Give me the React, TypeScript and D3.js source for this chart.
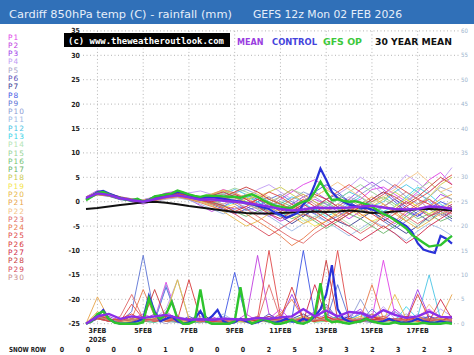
import React from "react";
import * as d3 from "d3";

// ---------- DATA ----------
const memberNames = Array.from({ length: 30 }, (_, i) => `P${i + 1}`);
const memberColors = [
  "#e040e8", "#c03ce0", "#9c3ce8", "#c09cf4", "#a8a4c8", "#5a50b8", "#383890", "#3c54e4", "#5c74d4", "#8c9cd4",
  "#9cb8e4", "#48c4e4", "#38d4e8", "#b4e4b4", "#98d498", "#74c474", "#68b468", "#c8c848", "#f4e448", "#e8b848",
  "#e8a448", "#f4c484", "#e06868", "#e87848", "#e04848", "#d83838", "#d02848", "#c83838", "#d84858", "#c88c8c",
];

// 12-hourly member 850hPa temperatures (hour 0..384)
const memberTemp: number[][] = [
  [0.6,2.0,1.2,0.5,0.2,0.4,1.0,1.8,2.2,1.5,0.8,1.5,2.5,1.8,0.5,-0.5,-1.2,0.5,2.0,3.5,4.5,3.0,1.0,-0.5,0.5,2.5,3.0,1.5,0.0,2.0,4.5,6.0,3.5],
  [1.0,2.3,1.6,0.8,0.0,-0.5,0.2,0.8,1.5,0.5,-0.8,-2.0,-1.0,0.5,1.5,0.0,-2.5,-4.0,-3.0,-1.0,0.5,-0.5,-2.0,-3.5,-2.0,-1.0,-3.0,-4.5,-2.5,-1.0,0.5,-1.5,-3.0],
  [0.9,1.8,1.7,1.0,0.6,0.3,0.8,1.5,2.0,1.2,0.6,0.0,-0.8,-1.5,-1.0,-2.0,-3.0,-2.0,-0.5,1.0,2.0,0.5,-1.0,0.5,2.5,4.0,2.5,0.5,-1.5,-3.0,-1.0,1.5,0.5],
  [0.7,1.5,1.3,0.9,0.5,0.2,0.3,0.9,1.0,1.8,2.2,1.5,0.5,-0.5,0.8,2.5,3.5,2.0,0.5,-1.0,-2.5,-1.0,1.5,3.0,5.0,3.5,1.5,3.0,5.5,4.0,2.0,4.0,7.0],
  [0.8,1.9,1.5,0.6,0.1,-0.3,0.0,0.5,0.8,0.4,0.0,0.8,1.5,0.5,-1.5,-2.5,-1.0,0.5,-0.5,-2.0,-3.5,-2.0,-0.5,1.0,0.0,-2.0,-3.5,-2.0,0.0,1.5,0.5,-1.0,0.0],
  [0.5,1.4,1.1,0.4,0.2,0.1,0.6,1.2,1.6,1.0,0.2,-0.6,-1.5,-2.5,-1.5,0.0,1.0,-0.5,-2.0,-3.0,-1.5,0.5,1.5,0.0,-1.5,-2.5,-1.0,0.5,-1.0,-2.5,-4.0,-2.0,-1.0],
  [0.9,1.6,1.2,0.5,0.4,0.2,0.7,1.1,1.4,0.8,0.5,1.2,2.0,1.0,0.0,-1.0,-2.0,-3.0,-4.5,-3.0,-1.5,-2.5,-4.0,-5.0,-3.5,-2.0,-3.5,-5.0,-6.5,-5.0,-3.0,-2.0,-3.5],
  [0.7,1.7,1.5,0.8,0.4,0.0,0.4,1.0,1.5,1.2,0.9,0.3,-0.5,0.5,1.5,0.5,-1.0,-2.5,-1.5,0.0,2.0,3.5,2.0,0.0,-1.5,0.5,2.0,0.0,-2.0,-3.0,-1.5,0.0,-1.0],
  [0.8,1.8,1.3,0.6,0.3,0.1,0.6,1.3,1.2,0.6,0.1,0.6,0.8,-0.5,-1.8,-1.0,0.5,1.5,0.0,-1.5,-2.5,-4.0,-3.0,-1.5,-0.5,-2.0,-4.0,-5.5,-4.0,-2.0,-1.0,-2.5,-4.0],
  [0.6,1.5,1.4,0.9,0.6,0.4,0.9,1.4,1.8,1.4,0.8,0.2,0.8,1.8,2.5,1.5,0.0,-1.0,0.5,2.0,1.0,-0.5,-1.5,0.0,1.5,3.0,4.5,3.0,1.0,-0.5,1.0,3.0,2.0],
  [1.0,2.1,1.6,0.7,0.2,-0.2,0.3,0.7,1.0,0.3,-0.5,-1.5,-2.5,-1.5,-0.5,-1.5,-3.0,-4.5,-6.0,-4.5,-3.0,-4.0,-5.5,-7.0,-5.5,-4.0,-5.0,-6.5,-8.0,-6.0,-4.5,-5.5,-7.0],
  [0.7,1.6,1.5,0.8,0.3,0.2,0.7,1.2,1.5,1.1,0.6,0.9,1.5,2.5,1.5,0.0,-1.5,-0.5,1.0,0.0,-2.0,-1.0,0.5,2.0,1.0,-1.0,0.0,2.0,3.5,2.0,0.0,-2.0,-1.0],
  [0.8,1.7,1.2,0.5,0.1,-0.1,0.4,1.0,1.3,0.7,0.3,-0.3,-1.0,0.0,1.0,0.0,-1.5,-3.0,-2.0,-0.5,-1.5,-3.0,-2.0,-0.5,1.0,-0.5,-2.0,-1.0,1.0,3.0,1.5,-0.5,-2.0],
  [0.6,1.5,1.3,0.7,0.4,0.3,0.8,1.3,1.0,0.5,0.0,0.5,1.2,0.5,-0.5,-1.5,-2.0,-1.0,-2.5,-4.0,-3.0,-1.5,-3.0,-4.5,-6.0,-4.5,-3.0,-1.5,-3.5,-5.0,-3.5,-2.0,-3.0],
  [0.9,1.9,1.6,0.9,0.5,0.2,0.5,0.9,1.2,0.8,0.5,1.0,1.8,2.8,2.0,1.0,0.0,1.0,2.5,1.5,0.0,-1.0,0.5,2.0,3.5,2.0,0.5,-1.0,0.5,2.5,4.0,2.0,0.5],
  [0.7,1.6,1.4,0.7,0.2,0.0,0.4,1.0,1.4,1.0,0.3,-0.3,0.3,1.0,0.0,-1.2,-0.5,-2.0,-3.5,-2.5,-1.0,0.0,-1.5,-2.5,-1.5,0.0,1.0,-0.5,-2.0,-3.5,-2.5,-1.0,-2.0],
  [0.8,1.8,1.4,0.6,0.3,0.1,0.6,1.1,1.3,0.9,0.4,0.0,-0.8,-2.0,-3.0,-2.0,-1.0,0.0,-1.0,-2.5,-4.0,-5.5,-4.0,-2.5,-3.5,-5.0,-6.5,-5.0,-3.0,-1.5,-2.5,-4.0,-3.0],
  [0.6,1.4,1.2,0.6,0.3,0.2,0.7,1.3,1.7,1.3,0.9,1.5,2.2,1.5,0.5,1.0,2.0,3.0,1.5,0.0,1.0,2.5,1.0,-0.5,-2.0,-1.0,0.5,2.0,0.5,-1.0,1.0,3.5,5.0],
  [0.9,1.7,1.5,0.8,0.4,0.1,0.5,1.0,1.2,0.7,0.2,-0.5,-1.2,-0.5,0.5,1.5,0.5,-0.5,-2.0,-3.5,-5.0,-4.0,-2.0,-1.0,-2.5,-4.0,-3.0,-1.0,0.5,-1.0,-2.5,-1.5,0.0],
  [0.7,1.5,1.3,0.7,0.3,0.0,0.3,0.8,1.1,0.6,0.0,-0.8,-2.0,-3.5,-5.0,-4.0,-2.5,-1.5,-3.0,-4.5,-3.5,-2.0,-0.5,-1.5,-3.0,-2.0,-0.5,-2.0,-4.0,-5.5,-4.0,-2.5,-1.5],
  [1.0,2.0,1.7,1.0,0.5,0.3,0.8,1.4,1.9,1.5,1.0,1.6,2.4,1.8,0.8,-0.5,-2.0,-1.0,0.5,1.5,0.0,-1.5,-3.0,-2.0,-0.5,1.0,-0.5,-2.5,-4.0,-2.5,-1.0,0.5,1.5],
  [0.8,1.6,1.4,0.8,0.5,0.3,0.7,1.1,1.5,1.1,0.6,0.2,-0.5,0.5,1.5,2.0,1.0,-0.5,-1.5,-0.5,1.0,2.5,4.0,2.5,1.0,-0.5,1.0,2.5,4.5,6.0,4.0,2.0,3.0],
  [0.7,1.8,1.6,0.9,0.4,0.1,0.4,0.9,1.3,0.9,0.4,0.8,1.0,0.0,-1.5,-3.0,-4.5,-6.0,-7.5,-8.5,-6.5,-5.0,-3.5,-5.0,-6.5,-5.0,-3.0,-1.5,-3.0,-4.5,-3.0,-1.5,-2.5],
  [0.6,1.5,1.2,0.6,0.2,-0.1,0.2,0.7,1.0,0.5,-0.2,-1.0,-1.8,-1.0,-2.5,-4.0,-5.5,-7.0,-9.0,-7.5,-5.5,-4.0,-2.5,-1.0,-2.5,-4.0,-5.5,-4.0,-2.0,-0.5,0.5,-1.0,-2.0],
  [0.9,1.9,1.5,0.8,0.4,0.2,0.6,1.2,1.6,1.2,0.7,1.3,2.0,1.0,-0.5,0.5,2.0,1.0,-0.5,-2.0,-1.0,0.5,2.0,3.5,2.0,0.0,1.5,3.5,2.0,0.5,2.0,4.0,5.5],
  [0.8,1.7,1.3,0.6,0.3,0.0,0.5,1.0,1.4,0.9,0.3,-0.2,-0.8,-2.0,-1.0,0.5,-0.5,-2.0,-1.0,0.5,-1.0,-2.5,-4.0,-2.5,-1.0,-2.5,-4.0,-2.5,-1.0,0.5,-0.5,-2.0,-1.0],
  [0.7,1.6,1.4,0.7,0.3,0.1,0.6,1.1,1.4,1.0,0.5,0.0,0.5,1.5,0.5,-1.0,-2.5,-3.5,-2.0,-0.5,-2.0,-3.5,-5.0,-6.5,-8.0,-6.5,-5.0,-6.5,-8.5,-7.0,-5.0,-3.5,-2.0],
  [0.8,1.9,1.6,0.9,0.5,0.2,0.7,1.3,1.7,1.3,0.8,0.4,1.0,2.0,3.0,2.0,0.5,-0.5,-1.5,0.0,1.5,0.5,-1.0,-2.5,-1.0,0.5,2.0,1.0,-0.5,1.0,3.0,5.0,3.5],
  [0.6,1.5,1.3,0.6,0.2,0.0,0.4,0.9,1.2,0.8,0.3,-0.4,-1.2,-2.5,-4.0,-5.5,-7.0,-5.5,-4.0,-2.5,-3.5,-5.0,-3.5,-2.0,-0.5,-1.5,-3.0,-1.5,0.0,-1.5,-3.0,-2.0,-0.5],
  [0.9,1.8,1.5,0.8,0.4,0.1,0.5,1.0,1.3,0.8,0.3,0.9,1.6,0.8,-0.3,-1.5,-0.5,1.0,2.5,1.0,-0.5,-2.0,-1.0,0.5,-1.0,-2.5,-1.0,0.5,2.0,0.5,-1.5,-3.0,-1.5],
];

// 12-hourly member rainfall (mm)
const memberRain: number[][] = [
  [0,1.2,0.5,0.3,1.0,2.0,1.0,8.5,1.5,0.5,0.2,1.0,0.5,0.3,2.0,0.5,1.0,3.0,0.5,1.0,2.5,0.5,1.5,0.8,2.0,1.0,13.0,2.0,0.5,1.5,3.0,1.0,0.5],
  [0,1.8,0.8,0.2,0.5,1.0,0.5,2.5,0.8,0.3,0.5,1.5,0.5,0.2,1.0,14.0,2.0,0.5,0.3,1.5,0.8,3.5,1.0,0.5,2.5,1.5,0.5,3.0,1.0,0.5,1.5,0.8,1.2],
  [0,1.0,1.5,0.5,0.3,0.8,2.0,1.0,0.5,0.2,0.3,0.8,0.3,0.5,0.8,1.5,0.5,0.8,6.0,1.0,0.5,2.0,0.8,1.5,3.0,0.5,1.0,2.5,0.8,7.0,1.5,0.5,0.8],
  [0,1.5,0.5,0.8,1.5,0.5,1.0,3.0,9.0,1.0,0.5,0.3,0.5,1.0,0.5,0.3,0.8,2.0,0.5,1.0,0.5,1.5,0.5,2.0,0.8,1.0,3.5,1.0,0.5,2.0,1.0,3.0,1.5],
  [0,2.0,1.0,0.3,0.5,1.5,0.8,0.0,1.0,0.3,0.2,0.5,1.5,0.5,0.3,1.0,0.5,1.0,0.3,1.5,2.0,0.5,1.0,0.5,1.5,0.8,0.3,1.0,2.0,1.0,0.5,1.5,1.0],
  [0,1.3,0.5,0.3,1.0,0.5,1.5,0.8,0.3,1.5,0.5,0.3,0.8,0.5,1.0,0.5,2.0,0.5,1.0,0.3,1.5,4.0,1.0,0.5,0.8,2.0,0.5,1.0,0.3,0.8,1.5,0.5,0.3],
  [0,1.0,0.8,0.5,0.3,0.5,0.8,1.0,0.5,0.3,2.5,0.5,0.3,1.0,0.5,0.8,0.5,0.3,1.0,2.0,0.5,1.0,0.5,1.5,0.5,0.3,1.0,0.5,0.8,0.5,1.0,0.5,0.8],
  [0,1.5,0.5,0.3,0.8,1.0,0.5,7.5,1.0,0.5,0.3,0.8,0.5,10.5,1.0,0.5,0.8,0.5,1.0,15.0,1.5,0.5,1.0,0.8,0.5,1.5,0.5,1.0,0.5,1.5,0.8,0.5,1.0],
  [0,1.8,0.8,0.5,2.5,14.0,1.5,0.5,0.3,0.8,0.5,1.0,0.3,0.5,0.8,1.0,0.5,1.5,0.5,0.8,1.0,0.5,8.0,1.0,0.5,3.0,0.8,0.5,1.0,0.5,1.5,0.8,0.5],
  [0,1.2,0.5,0.8,0.5,1.0,0.5,8.0,0.8,0.5,1.5,0.5,0.3,1.0,0.5,1.5,0.5,1.0,0.3,0.8,1.5,0.5,1.0,0.5,5.0,1.0,0.5,0.8,1.5,0.5,1.0,0.3,0.5],
  [0,1.5,1.0,0.5,0.3,0.5,1.0,0.5,1.5,0.8,0.3,0.5,2.0,0.5,0.3,0.8,1.5,0.5,1.0,0.5,0.8,1.5,0.5,1.0,0.3,0.8,1.5,2.5,1.0,0.5,0.8,1.5,0.5],
  [0,1.0,0.5,0.3,0.8,0.5,1.5,1.0,0.5,0.3,0.5,1.0,0.5,0.3,0.8,0.5,1.0,0.5,0.3,1.0,0.5,0.8,1.5,0.5,1.0,0.5,0.8,1.0,0.5,1.5,10.0,1.0,0.5],
  [0,1.3,0.8,0.5,1.0,0.5,0.3,0.8,1.0,0.5,0.3,0.8,0.5,1.0,0.5,0.3,1.5,0.8,0.5,1.0,0.3,0.5,1.0,0.8,2.0,0.5,1.0,0.5,3.5,1.0,0.5,0.8,0.3],
  [0,1.0,0.5,0.3,0.5,1.0,0.5,2.0,9.0,1.0,0.5,0.3,0.8,0.5,1.0,0.5,0.3,0.8,0.5,1.5,0.5,1.0,0.3,0.5,1.0,0.5,0.8,0.3,1.0,0.5,0.8,1.0,0.5],
  [0,1.2,0.8,0.5,0.3,0.8,1.5,0.5,0.3,0.5,1.0,0.5,0.8,0.3,0.5,1.0,0.5,0.3,0.8,0.5,1.5,0.5,0.3,1.0,0.5,0.8,0.3,0.5,1.5,0.8,0.5,1.0,0.3],
  [0,1.5,0.5,0.8,0.5,1.0,0.5,1.5,0.8,0.5,0.3,1.0,0.5,0.8,0.3,0.5,1.0,0.5,0.8,1.5,0.5,1.0,0.5,0.3,0.8,0.5,1.0,0.5,0.3,1.0,0.5,0.8,0.5],
  [0,1.0,0.8,0.5,1.0,0.5,0.3,1.0,0.5,0.8,0.5,0.3,0.5,1.0,0.5,0.8,0.3,0.5,1.0,0.5,0.8,0.5,1.5,0.5,0.3,1.0,0.5,0.8,0.5,1.0,0.3,0.5,0.8],
  [0,1.8,1.0,0.5,0.8,1.5,0.5,1.0,0.5,0.3,0.8,0.5,1.0,0.5,0.3,0.8,0.5,1.5,0.5,1.0,0.3,0.8,0.5,1.0,0.5,1.5,0.8,0.5,1.0,0.5,0.8,0.5,1.0],
  [0,2.0,0.5,0.3,0.5,0.8,1.0,0.5,0.8,0.3,0.5,1.0,0.5,0.3,0.8,0.5,1.0,0.3,0.5,0.8,1.0,0.5,0.3,0.8,1.5,0.5,1.0,0.5,0.8,0.3,0.5,1.0,0.8],
  [0,2.5,1.0,0.5,1.5,0.5,1.0,2.0,9.0,1.0,0.5,0.8,0.5,1.0,0.5,0.3,0.8,1.0,0.5,1.5,0.8,0.5,1.0,0.5,0.8,1.5,0.5,6.0,1.0,0.5,1.0,0.5,0.8],
  [0,5.5,1.0,0.5,1.0,0.5,0.8,1.5,0.5,1.0,0.3,0.8,0.5,1.0,0.5,1.5,0.5,0.8,1.0,0.5,1.5,0.8,0.5,1.0,0.5,2.0,1.0,0.5,0.8,1.5,0.5,1.0,6.0],
  [0,1.5,0.8,0.5,0.3,1.0,0.5,0.8,1.5,0.5,1.0,0.5,0.3,0.8,1.0,0.5,0.8,0.5,1.0,0.5,0.8,1.5,0.5,1.0,0.5,0.8,1.5,0.5,1.0,0.5,4.0,1.0,0.5],
  [0,1.0,0.5,1.5,6.0,1.0,0.5,0.8,0.5,1.0,0.5,0.3,0.8,0.5,1.0,0.5,8.0,1.0,0.5,0.8,1.5,0.5,1.0,0.5,0.8,1.0,0.5,0.8,1.5,0.5,1.0,0.5,0.8],
  [0,2.0,1.0,0.5,1.0,7.0,1.5,0.5,0.8,1.0,0.5,1.0,0.5,0.8,0.5,1.0,0.5,2.0,5.0,1.0,0.5,1.5,0.8,0.5,1.0,8.0,1.0,0.5,0.8,1.5,0.5,1.0,0.5],
  [0,1.5,0.8,0.5,4.0,1.0,0.5,1.0,0.5,0.8,1.0,0.5,0.3,0.8,0.5,1.0,15.0,1.5,0.5,1.0,0.5,0.8,15.0,1.0,0.5,0.8,1.5,0.5,1.0,0.5,0.8,1.5,0.5],
  [0,1.2,0.5,1.0,2.0,0.5,1.0,0.5,0.8,9.0,1.0,0.5,0.8,0.5,1.0,0.5,0.8,1.0,7.5,1.0,0.5,1.5,0.5,1.0,0.5,1.5,0.8,1.0,0.5,6.0,1.0,0.5,0.8],
  [0,1.8,0.8,0.5,1.0,0.5,0.8,1.5,0.5,1.0,0.5,0.8,0.5,1.0,0.5,0.8,1.5,0.5,1.0,0.5,8.0,1.5,0.5,1.0,0.5,0.8,1.0,0.5,1.5,0.8,0.5,5.0,1.0],
  [0,1.5,1.0,0.5,1.5,0.8,7.0,1.0,0.5,0.8,0.5,1.0,0.5,0.8,1.0,0.5,1.0,0.5,0.8,1.0,0.5,13.0,1.0,0.5,0.8,1.5,0.5,1.0,0.5,0.8,1.0,0.5,1.5],
  [0,1.0,0.5,0.8,0.5,1.0,0.5,1.0,0.8,0.5,1.0,0.5,0.8,0.5,1.0,0.8,0.5,1.0,0.5,0.8,1.5,0.5,1.0,0.5,1.0,0.5,0.8,1.0,0.5,1.0,0.5,0.8,0.5],
  [0,1.5,0.8,0.5,1.0,0.5,0.8,1.0,0.5,0.8,0.5,1.0,0.5,0.8,0.5,1.0,0.5,0.8,1.0,0.5,0.8,1.0,0.5,0.8,1.0,0.5,0.8,1.0,0.5,0.8,1.0,0.5,0.8],
];

// 12-hourly ensemble mean and 30-year mean
const meanTemp = [0.8,1.7,1.4,0.7,0.3,0.0,0.5,1.0,1.3,0.9,0.4,0.5,0.2,0.0,-0.3,-0.6,-1.0,-1.5,-1.8,-1.6,-1.2,-1.3,-1.3,-1.2,-1.0,-0.8,-1.2,-1.5,-1.6,-1.5,-1.0,-1.1,-1.5];
const meanRain = [0,1.5,2.0,1.0,1.5,1.2,1.5,1.8,1.2,0.8,0.9,0.8,1.0,0.9,0.8,1.2,1.0,1.3,1.5,3.0,1.5,2.7,1.5,2.4,2.2,1.3,2.8,1.8,1.2,1.5,2.5,1.4,1.3];
const climTemp = [-1.5,-1.3,-1.0,-0.7,-0.4,-0.1,0.0,-0.2,-0.5,-0.9,-1.2,-1.5,-1.8,-2.1,-2.3,-2.4,-2.4,-2.3,-2.2,-2.1,-2.0,-2.1,-2.0,-1.8,-2.0,-2.3,-2.2,-2.0,-1.8,-1.5,-1.5,-1.6,-1.8];

// 6-hourly control and GFS operational
const controlTemp = [0.5,1.2,2.0,2.2,1.7,1.2,0.8,0.5,0.2,0.4,0.0,0.4,1.0,1.2,1.5,1.6,2.0,1.8,1.4,1.0,0.8,0.9,1.0,0.8,0.6,0.4,0.2,0.0,-0.3,-0.5,-0.8,-1.2,-1.5,-2.2,-2.6,-3.3,-2.8,-2.3,-0.5,0.6,3.5,6.8,4.5,2.0,0.7,0.0,-0.6,-0.9,-1.2,-1.3,-1.6,-2.0,-2.3,-3.0,-3.6,-4.3,-5.0,-6.2,-8.5,-9.8,-10.2,-10.5,-7.0,-7.6,-8.6];
const controlRain = [0,0.5,1.5,2.8,1.0,0.3,0,0,0.2,0.5,1.0,5.7,2.5,0.5,1.0,1.5,0.5,0,0.3,1.0,2.6,0.5,1.5,2.8,0.5,0,0.3,1.0,0.5,0,0.3,0.8,0.5,0.2,0.5,1.0,0.5,0.3,1.0,0.5,1.5,3.0,6.0,12.0,3.0,1.0,0.5,0.3,0.5,1.0,0.5,0.3,0.5,1.0,0.5,0.3,0.2,0.5,1.0,0.5,0.3,0.2,0.5,0.3,0.2];
const opTemp = [0.3,1.0,1.8,2.0,1.5,1.0,0.8,0.4,0.3,0.6,0.0,0.3,1.1,1.3,1.5,1.7,2.3,1.9,1.5,1.2,1.0,1.3,1.2,1.2,1.1,1.0,1.0,0.8,1.2,1.5,1.0,0.3,-0.3,-0.8,-1.0,-1.3,-1.2,-0.5,0.0,0.3,2.0,4.1,2.0,0.3,0.5,0.2,0.0,0.1,-0.2,-0.5,-1.0,-1.8,-2.5,-3.0,-3.8,-4.6,-5.5,-6.8,-7.6,-8.4,-9.2,-9.0,-8.9,-7.9,-7.0];
const opRain = [0,0.5,2.0,2.5,1.0,0.2,0,0,0,0,0.3,5.2,2.0,1.0,2.0,4.5,1.0,0,0,0.5,7.0,0.5,0,0,0,0,0.5,7.5,1.0,0,0.5,1.0,0.5,0,0,0.3,0.8,0.2,0,0.5,2.0,8.3,1.0,0.3,0.5,0.2,0,0.3,0.5,1.0,0.5,0.2,0,0,0.3,0,0,0,0,0.2,0,0,0,0.2,0];

const dateLabels = ["3FEB", "5FEB", "7FEB", "9FEB", "11FEB", "13FEB", "15FEB", "17FEB"];
const dateHours = [12, 60, 108, 156, 204, 252, 300, 348];
const tempTicks = [35, 30, 25, 20, 15, 10, 5, 0, -5, -10, -15, -20, -25];
const rainTicks = [60, 55, 50, 45, 40, 35, 30, 25, 20, 15, 10, 5, 0];
const snowRow = [0, 0, 0, 0, 1, 0, 0, 0, 2, 5, 3, 3, 2, 3, 2, 3];

// ---------- CHART ----------
const W = 474;
const H = 355;

export default function App() {
  const x = d3.scaleLinear().domain([0, 384]).range([86, 452]);
  const yT = d3.scaleLinear().domain([-25, 35]).range([323.7, 30.9]);
  const yR = d3.scaleLinear().domain([0, 60]).range([323.7, 30.9]);
  const xSnow = d3.scaleLinear().domain([0, 15]).range([62, 450]);

  const lineT = (step: number) =>
    d3.line<number>().x((_, i) => x(i * step)).y((d) => yT(d));
  const lineR = (step: number) =>
    d3.line<number>().x((_, i) => x(i * step)).y((d) => yR(d));

  const gridColor = "#b4b4b4";
  const labelFont = "'DejaVu Sans Condensed', 'DejaVu Sans', sans-serif";

  return (
    <svg width={W} height={H} style={{ position: "absolute", left: 0, top: 0, background: "#fff" }}>
      <rect x={0} y={0} width={W} height={H} fill="#ffffff" />
      {/* header */}
      <rect x={0} y={0} width={W} height={24} fill="#3070b8" />
      <text x={9} y={18} fill="#e6eefa" fontFamily="'DejaVu Sans', sans-serif" fontSize={10.5}
        textLength={223} lengthAdjust="spacingAndGlyphs">Cardiff 850hPa temp (C) - rainfall (mm)</text>
      <text x={253} y={18} fill="#e6eefa" fontFamily="'DejaVu Sans', sans-serif" fontSize={10.5}
        textLength={149} lengthAdjust="spacingAndGlyphs">GEFS 12z Mon 02 FEB 2026</text>

      {/* horizontal grid */}
      {tempTicks.map((t) => (
        <g key={`h${t}`}>
          <line x1={83} x2={459} y1={yT(t)} y2={yT(t)} stroke={gridColor} strokeWidth={1} strokeDasharray="1,2.5" />
          <text x={80} y={yT(t) + 2.5} textAnchor="end" fontFamily={labelFont} fontWeight="bold" fontSize={7} fill="#222">{t}</text>
        </g>
      ))}
      {rainTicks.map((r) => (
        <text key={`r${r}`} x={461} y={yR(r) + 2} fontFamily={labelFont} fontSize={6} fill="#9ab2cc">{r}</text>
      ))}
      {/* vertical grid */}
      {dateHours.map((h) => (
        <line key={`v${h}`} x1={x(h)} x2={x(h)} y1={30.9} y2={323.7} stroke={gridColor} strokeWidth={1} strokeDasharray="1,2.5" />
      ))}

      {/* members rain */}
      {memberRain.map((s, k) => (
        <path key={`mr${k}`} d={lineR(12)(s) || ""} fill="none" stroke={memberColors[k]} strokeWidth={0.9} />
      ))}
      {/* members temp */}
      {memberTemp.map((s, k) => (
        <path key={`mt${k}`} d={lineT(12)(s) || ""} fill="none" stroke={memberColors[k]} strokeWidth={0.9} />
      ))}

      {/* highlighted lines */}
      <path d={lineT(12)(climTemp) || ""} fill="none" stroke="#111" strokeWidth={2} />
      <path d={lineR(6)(controlRain) || ""} fill="none" stroke="#2a32d8" strokeWidth={2.2} />
      <path d={lineR(6)(opRain) || ""} fill="none" stroke="#2ec42e" strokeWidth={2.4} />
      <path d={lineR(12)(meanRain) || ""} fill="none" stroke="#8a2ee8" strokeWidth={2.4} />
      <path d={lineT(6)(controlTemp) || ""} fill="none" stroke="#2a32d8" strokeWidth={2.2} />
      <path d={lineT(6)(opTemp) || ""} fill="none" stroke="#2ec42e" strokeWidth={2.4} />
      <path d={lineT(12)(meanTemp) || ""} fill="none" stroke="#8a2ee8" strokeWidth={2.4} />

      {/* watermark */}
      <rect x={64} y={33} width={166} height={14} fill="#000" />
      <text x={68} y={43.5} fill="#fff" fontFamily="'DejaVu Sans Mono', monospace" fontWeight="bold" fontSize={9}
        textLength={156} lengthAdjust="spacingAndGlyphs">(c) www.theweatheroutlook.com</text>

      {/* top legend */}
      <g fontFamily="'DejaVu Sans', sans-serif" fontSize={9.5} fontWeight="bold">
        <text x={237} y={44.5} fill="#9a3ee0" textLength={26.5} lengthAdjust="spacingAndGlyphs">MEAN</text>
        <text x={272} y={44.5} fill="#4444dc" textLength={45} lengthAdjust="spacingAndGlyphs">CONTROL</text>
        <text x={323} y={44.5} fill="#3cc83c" textLength={39} lengthAdjust="spacingAndGlyphs">GFS OP</text>
        <text x={375} y={44.5} fill="#111" textLength={77} lengthAdjust="spacingAndGlyphs">30 YEAR MEAN</text>
      </g>

      {/* member legend */}
      {memberNames.map((n, k) => (
        <text key={n} x={8} y={39.5 + k * 8.29} fill={memberColors[k]} fontFamily="'DejaVu Sans', sans-serif"
          fontSize={7.4} letterSpacing={1}>{n}</text>
      ))}

      {/* date labels */}
      {dateLabels.map((l, k) => (
        <text key={l} x={x(dateHours[k])} y={332.5} textAnchor="middle" fontFamily={labelFont} fontWeight="bold" fontSize={7} fill="#222">{l}</text>
      ))}
      <text x={x(dateHours[0])} y={341.5} textAnchor="middle" fontFamily={labelFont} fontWeight="bold" fontSize={7} fill="#222">2026</text>

      {/* snow row */}
      <text x={9} y={352} fontFamily={labelFont} fontWeight="bold" fontSize={7} fill="#222"
        textLength={37} lengthAdjust="spacingAndGlyphs">SNOW ROW</text>
      {snowRow.map((v, k) => (
        <text key={`s${k}`} x={xSnow(k)} y={352} textAnchor="middle" fontFamily={labelFont} fontWeight="bold" fontSize={7} fill="#222">{v}</text>
      ))}
    </svg>
  );
}
